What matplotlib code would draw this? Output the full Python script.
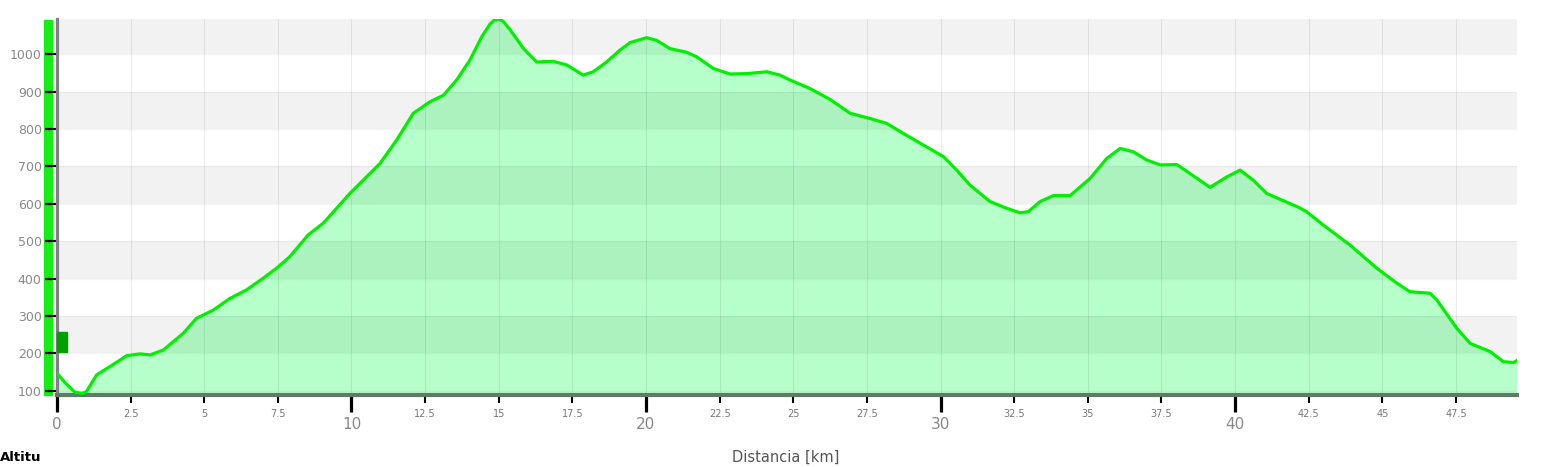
import matplotlib
matplotlib.use("Agg")
import matplotlib.pyplot as plt
from matplotlib.patches import Rectangle
from matplotlib.ticker import FixedLocator

# elevation profile (km, m)
km = [0.0, 0.3, 0.6, 0.85, 1.0, 1.35, 1.8, 2.37, 2.82, 3.16, 3.61, 4.29, 4.74,
      5.31, 5.87, 6.44, 7.0, 7.46, 7.91, 8.53, 9.04, 9.95, 10.97, 11.53, 12.1,
      12.67, 13.12, 13.57, 14.02, 14.42, 14.7, 14.85, 14.99, 15.15, 15.38,
      15.84, 16.29, 16.85, 17.31, 17.87, 18.21, 18.66, 19.12, 19.46, 20.02,
      20.36, 20.81, 21.38, 21.72, 22.28, 22.85, 23.42, 24.1, 24.55, 24.89,
      25.57, 26.25, 26.93, 27.61, 28.17, 28.74, 29.42, 30.1, 30.55, 31.0,
      31.68, 32.25, 32.7, 32.98, 33.38, 33.83, 34.4, 35.08, 35.64, 36.1,
      36.55, 37.0, 37.46, 38.02, 38.47, 39.15, 39.72, 40.17, 40.62, 41.07,
      41.53, 42.15, 42.43, 43.0, 43.9, 44.81, 45.49, 45.94, 46.62, 46.85,
      47.53, 47.98, 48.66, 49.11, 49.45, 49.57]
alt = [147, 120, 97, 93, 98, 143, 165, 194, 199, 196, 209, 254, 294,
       316, 347, 370, 401, 428, 459, 517, 548, 628, 708, 770, 842,
       873, 890, 931, 984, 1046, 1080, 1091, 1094, 1088, 1066,
       1015, 979, 981, 971, 944, 953, 979, 1011, 1031, 1044,
       1037, 1015, 1005, 993, 962, 947, 948, 953, 944, 931,
       908, 879, 842, 828, 815, 788, 757, 726, 690, 650,
       606, 588, 576, 579, 606, 622, 622, 668, 721, 748,
       739, 717, 704, 705, 681, 644, 672, 690, 663, 628,
       612, 591, 579, 543, 490, 428, 388, 365, 361, 343,
       267, 227, 205, 178, 176, 181]

major_x = [0, 10, 20, 30, 40]
minor_x = [2.5, 5, 7.5, 12.5, 15, 17.5, 22.5, 25, 27.5, 32.5, 35, 37.5,
           42.5, 45, 47.5]
minor_labels = ["2.5", "5", "7.5", "12.5", "15", "17.5", "22.5", "25", "27.5",
                "32.5", "35", "37.5", "42.5", "45", "47.5"]
y_ticks = [100, 200, 300, 400, 500, 600, 700, 800, 900, 1000]
grey_bands = [(200, 300), (400, 500), (600, 700), (800, 900), (1000, 1100)]

narrow = ["Liberation Sans Narrow", "DejaVu Sans"]

fig = plt.figure(figsize=(15.43, 4.67), dpi=100)
ax = fig.add_axes([0.0369, 0.1542, 0.9462, 0.8051])

ax.fill_between(km, alt, 0, color="#b6ffca", zorder=1, linewidth=0)
for lo, hi in grey_bands:
    ax.axhspan(lo, hi, color="black", alpha=0.05, linewidth=0, zorder=1.2)
for v in y_ticks:
    ax.axhline(v, color="black", alpha=0.04, linewidth=1, zorder=1.2)
for v in major_x + minor_x:
    ax.axvline(v, color="black", alpha=0.08, linewidth=0.8, zorder=1.2)
ax.plot(km, alt, color="#00f000", linewidth=2.3, zorder=3,
        solid_joinstyle="round")

ax.set_xlim(0, km[-1])
ax.set_ylim(89, 1094)

# small dark green marker at the start and the coloured bar on the left
ax.add_patch(Rectangle((0, 0.115), 0.0068, 0.053, transform=ax.transAxes,
                       color="#00a000", zorder=4, clip_on=False))
ax.add_patch(Rectangle((-0.0089, 0), 0.0055, 0.997, transform=ax.transAxes,
                       color="#14ee14", zorder=1, clip_on=False))

for s in ["top", "right"]:
    ax.spines[s].set_visible(False)
ax.spines["left"].set_color("#808080")
ax.spines["left"].set_linewidth(2.3)
ax.spines["bottom"].set_color("#5f7a66")
ax.spines["bottom"].set_linewidth(3)

ax.set_yticks(y_ticks)
ax.set_yticklabels([str(v) for v in y_ticks], family=narrow, fontsize=9,
                   color="#888888")
ax.tick_params(axis="y", length=9, width=1.6, color="black", pad=2)

ax.xaxis.set_major_locator(FixedLocator(major_x))
ax.xaxis.set_minor_locator(FixedLocator(minor_x))
ax.set_xticklabels([str(v) for v in major_x], family=narrow, fontsize=11,
                   color="#888888")
ax.set_xticklabels(minor_labels, minor=True, family=narrow, fontsize=7,
                   color="#777777")
ax.tick_params(axis="x", which="major", length=12, width=2.3, color="black",
               pad=4)
ax.tick_params(axis="x", which="minor", length=6, width=1.5, color="black",
               pad=4)

fig.text(0.0, 0.021, "Altitu", fontsize=9.5, fontweight="bold",
         family=narrow, color="black", va="center", ha="left")
fig.text(0.509, 0.021, "Distancia [km]", fontsize=10.5, family=narrow,
         color="#555555", va="center", ha="center")

fig.savefig("out.png", dpi=100)
